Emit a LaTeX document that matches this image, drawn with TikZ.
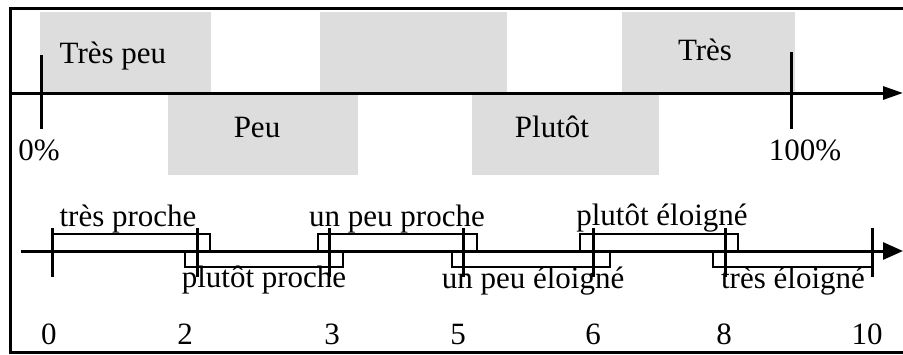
\documentclass[tikz,border=0pt]{standalone}
\usepackage{fontspec}
\setmainfont{Liberation Serif}
\usetikzlibrary{arrows.meta}
\definecolor{boxgray}{HTML}{DDDDDD}
\tikzset{
  lbl/.style={anchor=base, inner sep=0pt, font=\fontsize{31}{37}\selectfont},
  graybox/.style={fill=boxgray, draw=none},
  frame/.style={line width=3pt},
  axis/.style={line width=3pt},
  tickline/.style={line width=3pt},
  interval/.style={draw=black, fill=white, line width=2pt},
}
\begin{document}
\begin{tikzpicture}[x=1pt, y=-1pt]
\useasboundingbox (0,0) rectangle (903,354);
\clip (0,0) rectangle (903,354);
\fill[white] (0,0) rectangle (903,354);
% frame
\draw[frame] (10,8) rectangle (915,352);
% top gray boxes
\fill[graybox] (40,12) rectangle (211,92);
\fill[graybox] (320,12) rectangle (507,92);
\fill[graybox] (622,12) rectangle (795,92);
\fill[graybox] (168,95) rectangle (358,175);
\fill[graybox] (472,95) rectangle (659,175);
% top axis
\coordinate (ta0) at (10,93);
\coordinate (ta1) at (903,93);
\draw[axis, -{Triangle[length=20pt,width=13pt]}] (ta0) -- (ta1);
\coordinate (t0a) at (41,55); \coordinate (t0b) at (41,129);
\coordinate (t1a) at (791,52); \coordinate (t1b) at (791,129);
\draw[tickline] (t0a) -- (t0b);
\draw[tickline] (t1a) -- (t1b);
% top labels
\node[lbl] (trespeu) at (113,63) {Très peu};
\node[lbl] (tres) at (705,60) {Très};
\node[lbl] (peu) at (257,137) {Peu};
\node[lbl] (plutot) at (552,137) {Plutôt};
\node[lbl] (p0) at (39,160) {0\%};
\node[lbl] (p100) at (805,160) {100\%};
% intervals
\draw[interval] (52,234) rectangle (210,251);
\draw[interval] (185,251) rectangle (343,267);
\draw[interval] (318,234) rectangle (477,251);
\draw[interval] (452,251) rectangle (610,267);
\draw[interval] (580,234) rectangle (738,251);
\draw[interval] (713,251) rectangle (872,267);
% bottom axis
\coordinate (ba0) at (21,251);
\coordinate (ba1) at (903,251);
\draw[axis, -{Triangle[length=20pt,width=17pt]}] (ba0) -- (ba1);
% ticks
\foreach \x/\n in {52/k0,197/k2,329/k3,463/k5,593/k6,725/k8,872/k10}{
  \coordinate (\n a) at (\x,228);
  \coordinate (\n b) at (\x,277);
  \draw[tickline] (\n a) -- (\n b);
}
% interval labels
\node[lbl] (tproche) at (128,226) {très proche};
\node[lbl] (pproche) at (264,287) {plutôt proche};
\node[lbl] (uproche) at (397,226) {un peu proche};
\node[lbl] (ueloigne) at (533,288) {un peu éloigné};
\node[lbl] (peloigne) at (662,225) {plutôt éloigné};
\node[lbl] (teloigne) at (793,288) {très éloigné};
% numbers
\node[lbl] (n0) at (49,344) {0};
\node[lbl] (n2) at (185,344) {2};
\node[lbl] (n3) at (332,344) {3};
\node[lbl] (n5) at (458,344) {5};
\node[lbl] (n6) at (593,344) {6};
\node[lbl] (n8) at (724,344) {8};
\node[lbl] (n10) at (867,344) {10};
\end{tikzpicture}
\end{document}
